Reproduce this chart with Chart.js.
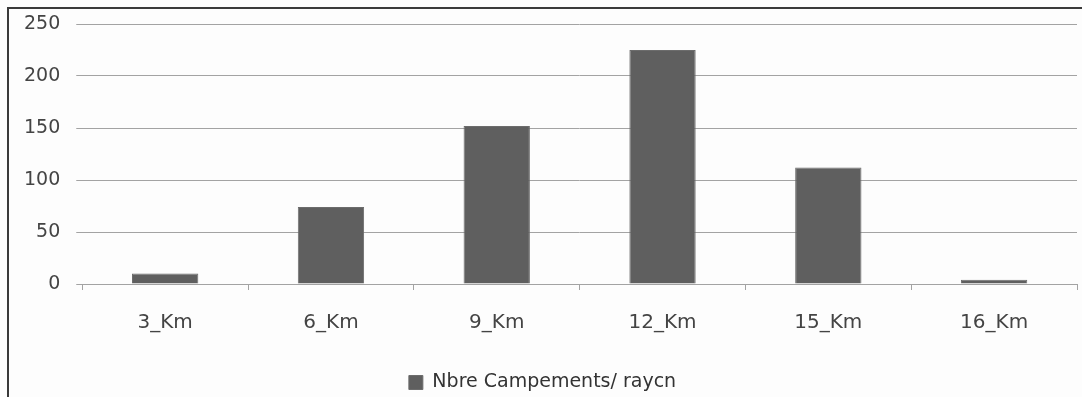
<!DOCTYPE html>
<html>
<head>
<meta charset="utf-8">
<script src="https://cdn.jsdelivr.net/npm/chart.js@4/dist/chart.umd.min.js"></script>
<style>
  html, body { margin: 0; padding: 0; background: #fdfdfd; }
  #wrap { position: relative; width: 1082px; height: 397px; overflow: hidden; }
  #frame {
    position: absolute; left: 7px; top: 7px; right: -5px; bottom: -5px;
    border-left: 2px solid #3a3a3a; border-top: 2px solid #3a3a3a;
    pointer-events: none;
  }
  canvas { position: absolute; left: 0; top: 0; }
</style>
</head>
<body>
<div id="wrap">
  <canvas id="campChart" width="1082" height="397"></canvas>
  <div id="frame"></div>
</div>
<script>
/************************ DATA **********************/
const categories = ['3_Km', '6_Km', '9_Km', '12_Km', '15_Km', '16_Km'];
const campements = [10, 74, 152, 225, 112, 4];
const seriesLabel = 'Nbre Campements/ raycn';
const yTicks = [0, 50, 100, 150, 200, 250];

/************************ STYLE *********************/
const BAR_COLOR = '#5f5f5f';
const GRID_COLOR = '#a3a3a3';
const TEXT_COLOR = '#444444';
const FONT = "'DejaVu Sans', Verdana, sans-serif";

/************************ CHART *********************/
const ctx = document.getElementById('campChart');

new Chart(ctx, {
  type: 'bar',
  data: {
    labels: categories,
    datasets: [{
      label: seriesLabel,
      data: campements,
      backgroundColor: BAR_COLOR,
      borderColor: '#6c6c6c',
      borderWidth: 1,
      barPercentage: 0.4,
      categoryPercentage: 1
    }]
  },
  options: {
    responsive: false,
    animation: false,
    layout: {
      padding: { left: 8, top: 24, right: 5, bottom: -5 }
    },
    plugins: {
      tooltip: { enabled: false },
      legend: {
        position: 'bottom',
        labels: {
          color: '#333333',
          font: { family: FONT, size: 19 },
          boxWidth: 14,
          boxHeight: 14,
          padding: 17
        }
      }
    },
    scales: {
      x: {
        grid: {
          offset: true,
          drawOnChartArea: false,
          color: GRID_COLOR,
          tickLength: 6
        },
        border: { color: GRID_COLOR, width: 1 },
        ticks: {
          color: TEXT_COLOR,
          font: { family: FONT, size: 20 },
          padding: 21
        }
      },
      y: {
        min: 0,
        max: 250,
        afterBuildTicks: axis => {
          axis.ticks = yTicks.map(v => ({ value: v }));
        },
        // let the 250 gridline sit close to the top like the original
        afterFit: axis => {
          axis.paddingTop = 0;
        },
        grid: {
          color: GRID_COLOR,
          tickLength: 6
        },
        border: { display: false },
        ticks: {
          color: TEXT_COLOR,
          font: { family: FONT, size: 19 },
          padding: 16
        }
      }
    }
  }
});
</script>
</body>
</html>
